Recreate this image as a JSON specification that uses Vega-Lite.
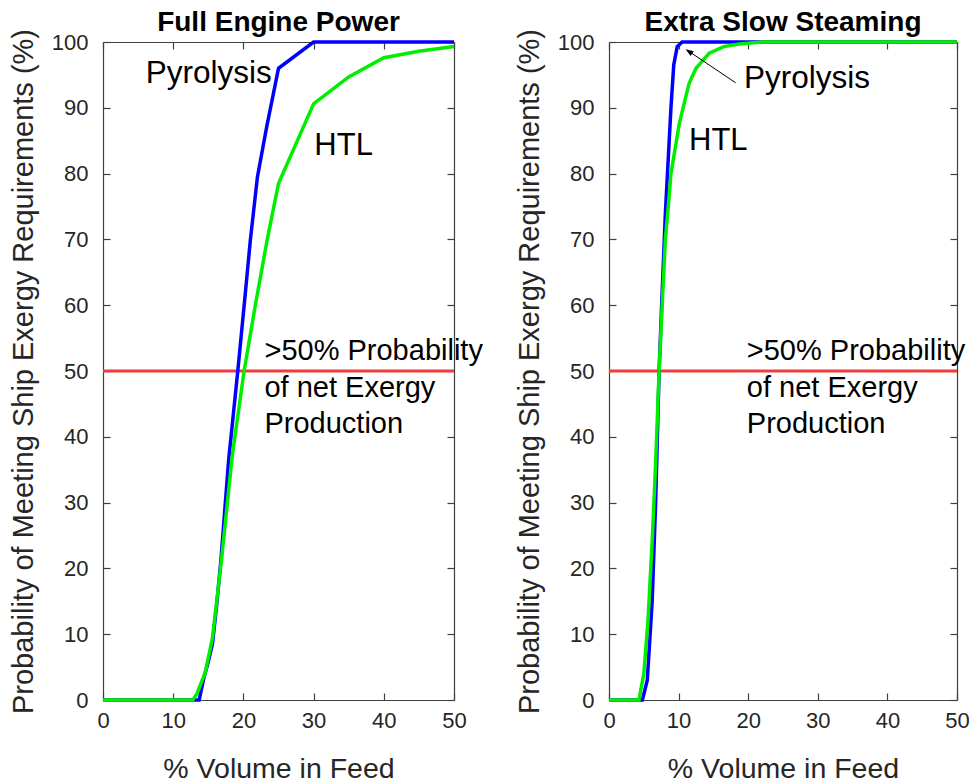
{
  "$schema": "https://vega.github.io/schema/vega-lite/v6.json",
  "background": "white",
  "autosize": {"type": "pad"},
  "padding": {"left": 9, "top": 9, "right": 0, "bottom": 0},
  "spacing": 32,
  "datasets": {
    "curves": [
      {"panel": "full", "fuel": "Pyrolysis", "volume": 0, "probability": 0},
      {"panel": "full", "fuel": "Pyrolysis", "volume": 13.7, "probability": 0},
      {"panel": "full", "fuel": "Pyrolysis", "volume": 14.4, "probability": 3.5},
      {"panel": "full", "fuel": "Pyrolysis", "volume": 15, "probability": 5.8},
      {"panel": "full", "fuel": "Pyrolysis", "volume": 15.6, "probability": 8.6},
      {"panel": "full", "fuel": "Pyrolysis", "volume": 16.2, "probability": 14.5},
      {"panel": "full", "fuel": "Pyrolysis", "volume": 16.8, "probability": 21.3},
      {"panel": "full", "fuel": "Pyrolysis", "volume": 17.9, "probability": 36.5},
      {"panel": "full", "fuel": "Pyrolysis", "volume": 19.2, "probability": 50},
      {"panel": "full", "fuel": "Pyrolysis", "volume": 20.2, "probability": 61},
      {"panel": "full", "fuel": "Pyrolysis", "volume": 21, "probability": 70},
      {"panel": "full", "fuel": "Pyrolysis", "volume": 22, "probability": 79.5},
      {"panel": "full", "fuel": "Pyrolysis", "volume": 23.3, "probability": 87},
      {"panel": "full", "fuel": "Pyrolysis", "volume": 25, "probability": 96},
      {"panel": "full", "fuel": "Pyrolysis", "volume": 30, "probability": 100},
      {"panel": "full", "fuel": "Pyrolysis", "volume": 50, "probability": 100},
      {"panel": "full", "fuel": "HTL", "volume": 0, "probability": 0},
      {"panel": "full", "fuel": "HTL", "volume": 12.8, "probability": 0},
      {"panel": "full", "fuel": "HTL", "volume": 13.4, "probability": 1},
      {"panel": "full", "fuel": "HTL", "volume": 14.6, "probability": 4.3},
      {"panel": "full", "fuel": "HTL", "volume": 15.6, "probability": 9.5},
      {"panel": "full", "fuel": "HTL", "volume": 16.9, "probability": 21.5},
      {"panel": "full", "fuel": "HTL", "volume": 18.4, "probability": 37},
      {"panel": "full", "fuel": "HTL", "volume": 20.1, "probability": 50},
      {"panel": "full", "fuel": "HTL", "volume": 21.7, "probability": 60},
      {"panel": "full", "fuel": "HTL", "volume": 23.4, "probability": 70},
      {"panel": "full", "fuel": "HTL", "volume": 25, "probability": 78.5},
      {"panel": "full", "fuel": "HTL", "volume": 30, "probability": 90.6},
      {"panel": "full", "fuel": "HTL", "volume": 35, "probability": 94.7},
      {"panel": "full", "fuel": "HTL", "volume": 40, "probability": 97.6},
      {"panel": "full", "fuel": "HTL", "volume": 45, "probability": 98.6},
      {"panel": "full", "fuel": "HTL", "volume": 50, "probability": 99.3},
      {"panel": "slow", "fuel": "Pyrolysis", "volume": 0, "probability": 0},
      {"panel": "slow", "fuel": "Pyrolysis", "volume": 4.8, "probability": 0},
      {"panel": "slow", "fuel": "Pyrolysis", "volume": 5.5, "probability": 3},
      {"panel": "slow", "fuel": "Pyrolysis", "volume": 6.2, "probability": 15},
      {"panel": "slow", "fuel": "Pyrolysis", "volume": 6.7, "probability": 30},
      {"panel": "slow", "fuel": "Pyrolysis", "volume": 7.2, "probability": 50},
      {"panel": "slow", "fuel": "Pyrolysis", "volume": 7.6, "probability": 61},
      {"panel": "slow", "fuel": "Pyrolysis", "volume": 8.1, "probability": 74},
      {"panel": "slow", "fuel": "Pyrolysis", "volume": 8.4, "probability": 80},
      {"panel": "slow", "fuel": "Pyrolysis", "volume": 8.9, "probability": 90},
      {"panel": "slow", "fuel": "Pyrolysis", "volume": 9.3, "probability": 96.5},
      {"panel": "slow", "fuel": "Pyrolysis", "volume": 9.8, "probability": 99.3},
      {"panel": "slow", "fuel": "Pyrolysis", "volume": 10.5, "probability": 100},
      {"panel": "slow", "fuel": "Pyrolysis", "volume": 50, "probability": 100},
      {"panel": "slow", "fuel": "HTL", "volume": 0, "probability": 0},
      {"panel": "slow", "fuel": "HTL", "volume": 4.3, "probability": 0},
      {"panel": "slow", "fuel": "HTL", "volume": 5.0, "probability": 4},
      {"panel": "slow", "fuel": "HTL", "volume": 5.6, "probability": 12},
      {"panel": "slow", "fuel": "HTL", "volume": 6.2, "probability": 24},
      {"panel": "slow", "fuel": "HTL", "volume": 6.7, "probability": 36},
      {"panel": "slow", "fuel": "HTL", "volume": 7.2, "probability": 50},
      {"panel": "slow", "fuel": "HTL", "volume": 7.6, "probability": 59},
      {"panel": "slow", "fuel": "HTL", "volume": 8.1, "probability": 70},
      {"panel": "slow", "fuel": "HTL", "volume": 8.6, "probability": 76},
      {"panel": "slow", "fuel": "HTL", "volume": 8.9, "probability": 80},
      {"panel": "slow", "fuel": "HTL", "volume": 10.1, "probability": 87.6},
      {"panel": "slow", "fuel": "HTL", "volume": 11.5, "probability": 93.7},
      {"panel": "slow", "fuel": "HTL", "volume": 12.5, "probability": 96},
      {"panel": "slow", "fuel": "HTL", "volume": 14.4, "probability": 98.3},
      {"panel": "slow", "fuel": "HTL", "volume": 16.5, "probability": 99.3},
      {"panel": "slow", "fuel": "HTL", "volume": 18.7, "probability": 99.7},
      {"panel": "slow", "fuel": "HTL", "volume": 22, "probability": 100},
      {"panel": "slow", "fuel": "HTL", "volume": 50, "probability": 100}
    ]
  },
  "config": {
    "font": "Liberation Sans",
    "view": {"stroke": null},
    "axis": {
      "grid": false,
      "domainColor": "#404040",
      "domainWidth": 1.2,
      "tickColor": "#404040",
      "tickWidth": 1.2,
      "tickSize": -7,
      "labelColor": "#262626",
      "labelFont": "Liberation Sans",
      "labelFontSize": 22,
      "labelFlush": false,
      "labelOverlap": false,
      "titleFont": "Liberation Sans",
      "titleFontSize": 28.5,
      "titleFontWeight": "normal",
      "titleColor": "#262626"
    },
    "axisX": {"labelPadding": 17, "titlePadding": 23},
    "axisY": {"labelPadding": 22, "titlePadding": 13, "titleFontSize": 29},
    "title": {
      "font": "Liberation Sans",
      "fontSize": 28,
      "fontWeight": "bold",
      "color": "#000000",
      "anchor": "middle",
      "frame": "group",
      "offset": -1,
      "dy": 8
    }
  },
  "hconcat": [
    {
      "width": 351,
      "height": 658,
      "title": "Full Engine Power",
      "resolve": {"axis": {"x": "independent", "y": "independent"}},
      "layer": [
        {
          "data": {"values": [{}]},
          "mark": {"type": "rule", "color": "#f03c3c", "strokeWidth": 3},
          "encoding": {
            "x": {"datum": 0, "type": "quantitative", "scale": {"domain": [0, 50], "nice": false},
                  "axis": {"orient": "top", "labels": false, "title": null, "values": [0, 10, 20, 30, 40, 50]}},
            "x2": {"datum": 50},
            "y": {"datum": 50, "type": "quantitative", "scale": {"domain": [0, 100], "nice": false},
                  "axis": {"orient": "right", "labels": false, "title": null, "values": [0, 10, 20, 30, 40, 50, 60, 70, 80, 90, 100]}}
          }
        },
        {
          "data": {"name": "curves"},
          "transform": [{"filter": "datum.panel === 'full'"}],
          "mark": {"type": "line", "strokeWidth": 3.5},
          "encoding": {
            "x": {"field": "volume", "type": "quantitative",
                  "axis": {"title": "% Volume in Feed", "values": [0, 10, 20, 30, 40, 50]}},
            "y": {"field": "probability", "type": "quantitative",
                  "axis": {"title": "Probability of Meeting Ship Exergy Requirements (%)", "values": [0, 10, 20, 30, 40, 50, 60, 70, 80, 90, 100]}},
            "color": {"field": "fuel", "type": "nominal",
                      "scale": {"domain": ["HTL", "Pyrolysis"], "range": ["#00ee00", "#0000ff"]}, "legend": null}
          }
        },
        {
          "data": {"values": [{}]},
          "mark": {"type": "text", "align": "left", "baseline": "alphabetic", "fontSize": 31.5, "color": "#000000"},
          "encoding": {
            "x": {"datum": 6.1, "type": "quantitative", "axis": null},
            "y": {"datum": 93.7, "type": "quantitative", "axis": null},
            "text": {"value": "Pyrolysis"}
          }
        },
        {
          "data": {"values": [{}]},
          "mark": {"type": "text", "align": "left", "baseline": "alphabetic", "fontSize": 31, "color": "#000000"},
          "encoding": {
            "x": {"datum": 30.1, "type": "quantitative", "axis": null},
            "y": {"datum": 82.8, "type": "quantitative", "axis": null},
            "text": {"value": "HTL"}
          }
        },
        {
          "data": {"values": [{}]},
          "mark": {"type": "text", "align": "left", "baseline": "alphabetic", "fontSize": 29, "color": "#000000", "lineBreak": "\n", "lineHeight": 36.5},
          "encoding": {
            "x": {"datum": 23.0, "type": "quantitative", "axis": null},
            "y": {"datum": 51.6, "type": "quantitative", "axis": null},
            "text": {"value": ">50% Probability\nof net Exergy\nProduction"}
          }
        }
      ]
    },
    {
      "width": 348,
      "height": 658,
      "title": "Extra Slow Steaming",
      "resolve": {"axis": {"x": "independent", "y": "independent"}},
      "layer": [
        {
          "data": {"values": [{}]},
          "mark": {"type": "rule", "color": "#f03c3c", "strokeWidth": 3},
          "encoding": {
            "x": {"datum": 0, "type": "quantitative", "scale": {"domain": [0, 50], "nice": false},
                  "axis": {"orient": "top", "labels": false, "title": null, "values": [0, 10, 20, 30, 40, 50]}},
            "x2": {"datum": 50},
            "y": {"datum": 50, "type": "quantitative", "scale": {"domain": [0, 100], "nice": false},
                  "axis": {"orient": "right", "labels": false, "title": null, "values": [0, 10, 20, 30, 40, 50, 60, 70, 80, 90, 100]}}
          }
        },
        {
          "data": {"name": "curves"},
          "transform": [{"filter": "datum.panel === 'slow'"}],
          "mark": {"type": "line", "strokeWidth": 3.5},
          "encoding": {
            "x": {"field": "volume", "type": "quantitative",
                  "axis": {"title": "% Volume in Feed", "values": [0, 10, 20, 30, 40, 50]}},
            "y": {"field": "probability", "type": "quantitative",
                  "axis": {"title": "Probability of Meeting Ship Exergy Requirements (%)", "values": [0, 10, 20, 30, 40, 50, 60, 70, 80, 90, 100]}},
            "color": {"field": "fuel", "type": "nominal",
                      "scale": {"domain": ["HTL", "Pyrolysis"], "range": ["#00ee00", "#0000ff"]}, "legend": null}
          }
        },
        {
          "data": {"values": [{}]},
          "mark": {"type": "rule", "color": "#000000", "strokeWidth": 1},
          "encoding": {
            "x": {"datum": 18.2, "type": "quantitative", "axis": null},
            "y": {"datum": 93.8, "type": "quantitative", "axis": null},
            "x2": {"datum": 11.3},
            "y2": {"datum": 98.7}
          }
        },
        {
          "data": {"values": [{}]},
          "mark": {"type": "point", "shape": "M0,0L2,-0.7L2,0.7Z", "size": 64, "angle": 33.7, "filled": true, "color": "#000000", "opacity": 1},
          "encoding": {
            "x": {"datum": 11.0, "type": "quantitative", "axis": null},
            "y": {"datum": 98.9, "type": "quantitative", "axis": null}
          }
        },
        {
          "data": {"values": [{}]},
          "mark": {"type": "text", "align": "left", "baseline": "alphabetic", "fontSize": 31.5, "color": "#000000"},
          "encoding": {
            "x": {"datum": 19.4, "type": "quantitative", "axis": null},
            "y": {"datum": 93.0, "type": "quantitative", "axis": null},
            "text": {"value": "Pyrolysis"}
          }
        },
        {
          "data": {"values": [{}]},
          "mark": {"type": "text", "align": "left", "baseline": "alphabetic", "fontSize": 31, "color": "#000000"},
          "encoding": {
            "x": {"datum": 11.5, "type": "quantitative", "axis": null},
            "y": {"datum": 83.6, "type": "quantitative", "axis": null},
            "text": {"value": "HTL"}
          }
        },
        {
          "data": {"values": [{}]},
          "mark": {"type": "text", "align": "left", "baseline": "alphabetic", "fontSize": 29, "color": "#000000", "lineBreak": "\n", "lineHeight": 36.5},
          "encoding": {
            "x": {"datum": 19.8, "type": "quantitative", "axis": null},
            "y": {"datum": 51.6, "type": "quantitative", "axis": null},
            "text": {"value": ">50% Probability\nof net Exergy\nProduction"}
          }
        }
      ]
    }
  ]
}
